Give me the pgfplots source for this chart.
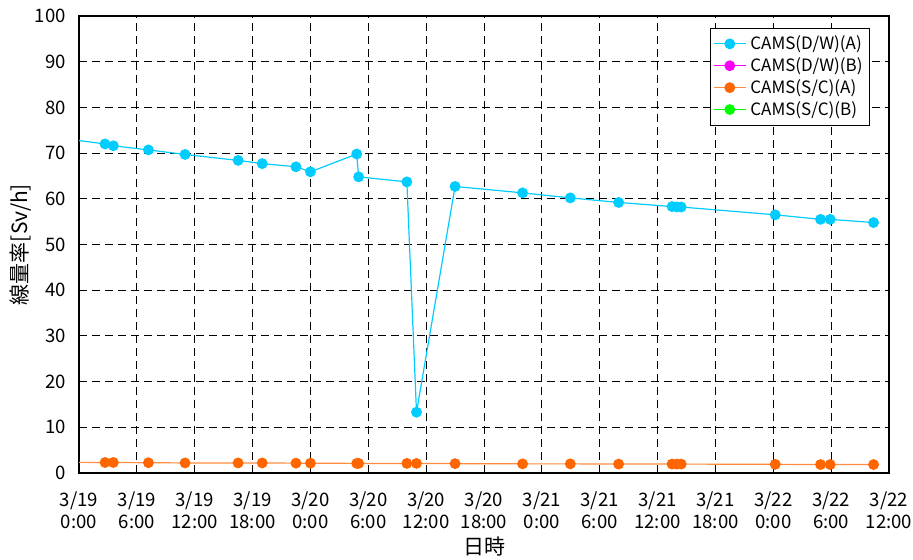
\documentclass[border=0pt]{standalone}
\usepackage{pgfplots}
\pgfplotsset{compat=1.18}
\usepackage{fontspec}
\setmainfont{Noto Sans CJK JP}
\definecolor{cblue}{RGB}{0,204,255}
\definecolor{corange}{RGB}{255,102,0}
\definecolor{corangel}{RGB}{255,140,64}
\definecolor{cmag}{RGB}{255,0,255}
\definecolor{cgreen}{RGB}{0,255,0}
\begin{document}
\begin{tikzpicture}
\begin{axis}[
  scale only axis,
  width=405pt, height=228.5pt,
  xmin=0, xmax=84, ymin=0, ymax=100,
  xtick={0,6,...,84},
  xticklabels={{3/19\\0:00},{3/19\\6:00},{3/19\\12:00},{3/19\\18:00},{3/20\\0:00},{3/20\\6:00},{3/20\\12:00},{3/20\\18:00},{3/21\\0:00},{3/21\\6:00},{3/21\\12:00},{3/21\\18:00},{3/22\\0:00},{3/22\\6:00},{3/22\\12:00}},
  xticklabel style={align=center, font=\fontsize{9.3pt}{11pt}\selectfont, yshift=-6pt},
  ytick={0,10,...,100},
  yticklabel style={font=\fontsize{9.3pt}{11pt}\selectfont, xshift=-3pt},
  /pgf/number format/assume math mode=true,
  major tick length=0pt,
  grid=major,
  major grid style={black, line width=0.5pt, dash pattern=on 4pt off 2.5pt},
  axis line style={black, line width=0.7pt},
  xlabel={日時}, ylabel={線量率[Sv/h]},
  xlabel style={font=\fontsize{10.5pt}{12pt}\selectfont, yshift=3pt},
  ylabel style={font=\fontsize{10.5pt}{12pt}\selectfont, yshift=-5pt},
  legend style={at={(1,1)}, anchor=north east, xshift=-9.5pt, yshift=-6pt,
    font=\fontsize{8.5pt}{9.5pt}\selectfont, draw=black, line width=0.4pt,
    row sep=-1.5pt, inner sep=1.5pt},
  legend image code/.code={
    \draw[mark repeat=2,mark phase=2] plot coordinates {(0pt,0pt) (8pt,0pt) (16pt,0pt)};},
  legend cell align=left,
  clip=true,
]
\addplot[color=cblue, line width=0.6pt, mark=*, mark size=2.4pt, mark options={fill=cblue, draw=cblue}] coordinates {
(-2,73.3) (2.7,72.0) (3.56,71.6) (7.2,70.7) (11.0,69.7) (16.5,68.4) (19.0,67.7) (22.5,67.0) (24.0,65.9)
(28.8,69.8) (29.0,64.8) (34.0,63.7) (35.0,13.3) (39.0,62.7) (46.0,61.3) (50.95,60.2) (55.96,59.2)
(61.5,58.3) (62.0,58.2) (62.45,58.2) (72.2,56.5) (76.9,55.5) (77.9,55.5) (82.4,54.8)};
\addlegendentry{CAMS(D/W)(A)}
\addlegendimage{color=cmag, line width=0.6pt, mark=*, mark size=2.4pt, mark options={fill=cmag, draw=cmag}}
\addlegendentry{CAMS(D/W)(B)}
\addplot[color=corangel, line width=0.6pt, mark=*, mark size=2.4pt, mark options={fill=corange, draw=corange}] coordinates {
(-2,2.35) (2.7,2.3) (3.56,2.3) (7.2,2.25) (11.0,2.2) (16.5,2.2) (19.0,2.2) (22.5,2.15) (24.0,2.15)
(28.8,2.1) (29.0,2.1) (34.0,2.1) (35.0,2.1) (39.0,2.05) (46.0,2.0) (50.95,2.0) (55.96,1.95)
(61.5,1.95) (62.0,1.95) (62.45,1.95) (72.2,1.9) (76.9,1.85) (77.9,1.85) (82.4,1.85)};
\addlegendentry{CAMS(S/C)(A)}
\addlegendimage{color=cgreen, line width=0.6pt, mark=*, mark size=2.4pt, mark options={fill=cgreen, draw=cgreen}}
\addlegendentry{CAMS(S/C)(B)}
\coordinate (A) at (rel axis cs:0,0);
\coordinate (B) at (rel axis cs:1,1);
\end{axis}
\pgfresetboundingbox
\useasboundingbox ([xshift=-39.5pt,yshift=-43.5pt]A) rectangle ([xshift=12pt,yshift=8pt]B);
\end{tikzpicture}
\end{document}
